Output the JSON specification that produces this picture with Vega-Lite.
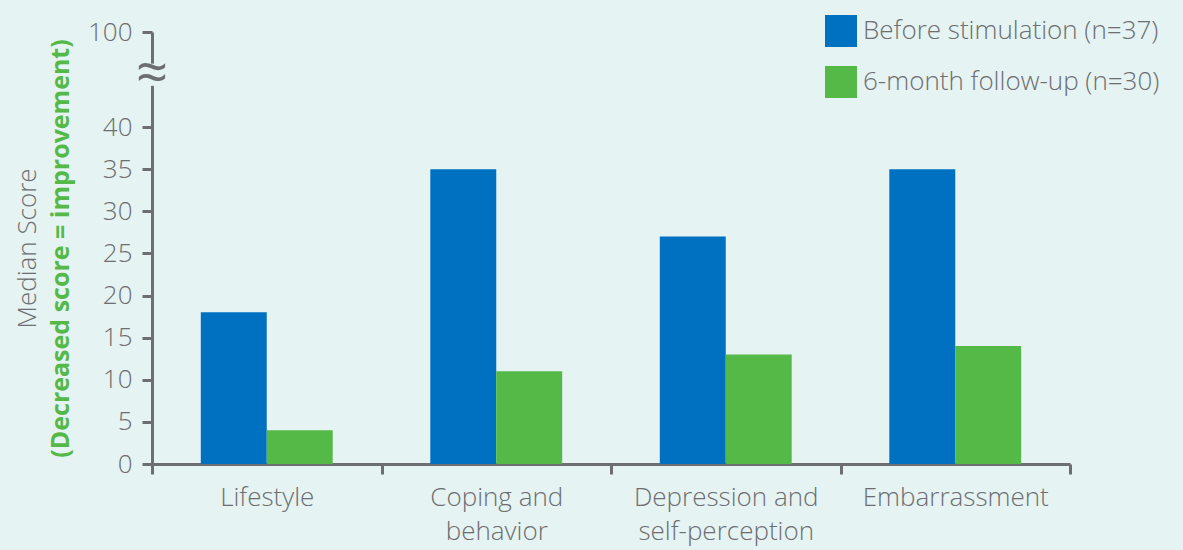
{
  "$schema": "https://vega.github.io/schema/vega-lite/v6.json",
  "autosize": "none",
  "width": 918,
  "height": 432,
  "padding": {"left": 152, "top": 32, "right": 113, "bottom": 86},
  "background": "#e5f3f2",
  "config": {
    "font": "Open Sans",
    "view": {"stroke": null},
    "axis": {"labelFont": "Open Sans", "titleFont": "Open Sans", "grid": false}
  },
  "datasets": {
    "scores": [
      {"category": "Lifestyle", "period": "Before stimulation (n=37)", "score": 18},
      {"category": "Lifestyle", "period": "6-month follow-up (n=30)", "score": 4},
      {"category": "Coping and behavior", "period": "Before stimulation (n=37)", "score": 35},
      {"category": "Coping and behavior", "period": "6-month follow-up (n=30)", "score": 11},
      {"category": "Depression and self-perception", "period": "Before stimulation (n=37)", "score": 27},
      {"category": "Depression and self-perception", "period": "6-month follow-up (n=30)", "score": 13},
      {"category": "Embarrassment", "period": "Before stimulation (n=37)", "score": 35},
      {"category": "Embarrassment", "period": "6-month follow-up (n=30)", "score": 14}
    ],
    "brk": [{"lo": 66, "hi": 80, "mid": 73, "sym": "≈"}]
  },
  "layer": [
    {
      "data": {"name": "scores"},
      "mark": {"type": "bar"},
      "encoding": {
        "x": {
          "field": "category", "type": "nominal",
          "sort": ["Lifestyle", "Coping and behavior", "Depression and self-perception", "Embarrassment"],
          "scale": {"paddingInner": 0, "paddingOuter": 0},
          "axis": {
            "title": null, "labelAngle": 0, "tickBand": "extent",
            "domainColor": "#6d6e71", "domainWidth": 3, "tickColor": "#6d6e71", "tickWidth": 3, "tickSize": 10,
            "labelColor": "#6d6e71", "labelFontSize": 26, "labelFontWeight": 300, "labelPadding": 10,
            "labelBaseline": "top", "labelLineHeight": 34, "labelLimit": 400,
            "labelExpr": "datum.value == 'Coping and behavior' ? ['Coping and', 'behavior'] : datum.value == 'Depression and self-perception' ? ['Depression and', 'self-perception'] : datum.label"
          }
        },
        "xOffset": {
          "field": "period", "type": "nominal",
          "sort": ["Before stimulation (n=37)", "6-month follow-up (n=30)"],
          "scale": {"paddingInner": 0, "paddingOuter": 0.74}
        },
        "y": {
          "field": "score", "type": "quantitative",
          "scale": {"domain": [0, 40, 100], "range": [432, 95, 0], "nice": false, "zero": false},
          "axis": {
            "orient": "left",
            "values": [0, 5, 10, 15, 20, 25, 30, 35, 40, 100],
            "title": "(Decreased score = improvement)",
            "titleColor": "#54b948", "titleFontSize": 25, "titleFontWeight": "bold", "titlePadding": 14,
            "domainColor": "#6d6e71", "domainWidth": 3, "tickColor": "#6d6e71", "tickWidth": 3, "tickSize": 10,
            "labelColor": "#6d6e71", "labelFontSize": 26, "labelFontWeight": 300, "labelPadding": 10
          }
        },
        "color": {
          "field": "period", "type": "nominal",
          "sort": ["Before stimulation (n=37)", "6-month follow-up (n=30)"],
          "scale": {"domain": ["Before stimulation (n=37)", "6-month follow-up (n=30)"], "range": ["#0070c0", "#55b947"]},
          "legend": {
            "title": null, "orient": "none", "legendX": 673, "legendY": -17,
            "symbolType": "square", "symbolSize": 1024, "symbolStrokeWidth": 0, "symbolOpacity": 1,
            "labelFontSize": 26, "labelFontWeight": 300, "labelColor": "#6d6e71", "labelOffset": 6,
            "rowPadding": 19, "labelLimit": 400
          }
        }
      }
    },
    {
      "data": {"name": "brk"},
      "mark": {"type": "rect", "fill": "#e5f3f2", "x": -16, "x2": 16},
      "encoding": {
        "y": {"field": "lo", "type": "quantitative", "scale": {"domain": [0, 40, 100], "range": [432, 95, 0], "nice": false, "zero": false}, "axis": null},
        "y2": {"field": "hi"}
      }
    },
    {
      "data": {"name": "brk"},
      "mark": {"type": "text", "x": 0, "fontSize": 56, "color": "#6d6e71", "baseline": "middle", "align": "center"},
      "encoding": {
        "text": {"field": "sym"},
        "y": {
          "field": "mid", "type": "quantitative",
          "scale": {"domain": [0, 40, 100], "range": [432, 95, 0], "nice": false, "zero": false},
          "axis": {"orient": "left", "offset": 112, "title": "Median Score", "titleColor": "#6d6e71", "titleFontSize": 26, "titleFontWeight": 300, "labels": false, "ticks": false, "domain": false, "titlePadding": 0}
        }
      }
    }
  ],
  "resolve": {"scale": {"y": "independent"}}
}
